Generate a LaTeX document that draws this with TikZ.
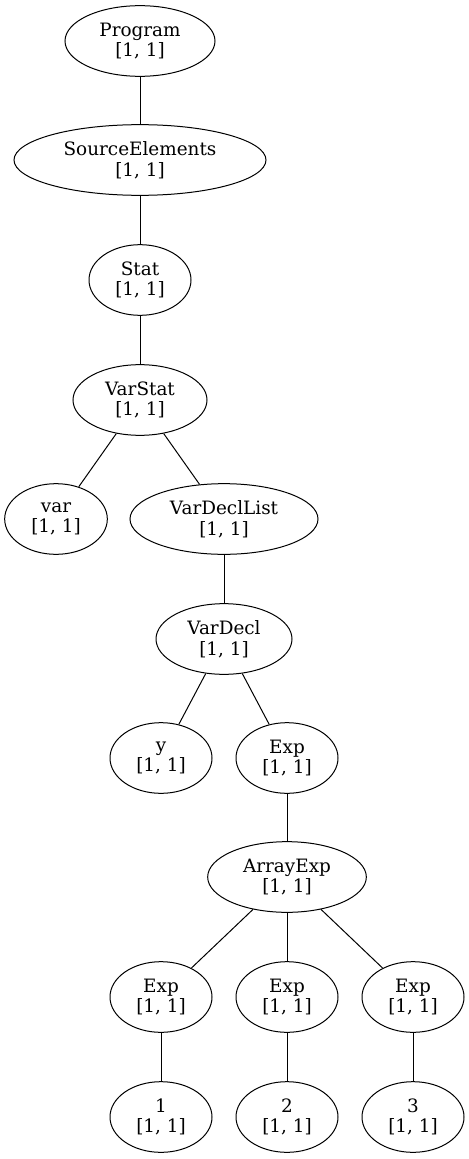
\documentclass[tikz,border=0pt]{standalone}
\usepackage{fontspec}
\setmainfont{DejaVu Serif}
\usetikzlibrary{shapes.geometric}
\begin{document}
\begin{tikzpicture}[x=0.75pt,y=-0.75pt,
  nd/.style={ellipse,draw,line width=0.75pt,inner sep=0pt,minimum height=53pt,
    align=center,font=\fontsize{13.8}{15.5}\selectfont},
  edge/.style={line width=0.75pt}]
\useasboundingbox (0,0) rectangle (468,1159);
\node[nd,minimum width=112.5pt] (prog) at (140,41) {Program\\{[1, 1]}};
\node[nd,minimum width=189pt] (src) at (140,160) {SourceElements\\{[1, 1]}};
\node[nd,minimum width=76.5pt] (stat) at (140,280) {Stat\\{[1, 1]}};
\node[nd,minimum width=100.5pt] (vstat) at (140,400) {VarStat\\{[1, 1]}};
\node[nd,minimum width=77pt] (var) at (56,519) {var\\{[1, 1]}};
\node[nd,minimum width=141pt] (vdl) at (224,519) {VarDeclList\\{[1, 1]}};
\node[nd,minimum width=102pt] (vd) at (224,639) {VarDecl\\{[1, 1]}};
\node[nd,minimum width=76.5pt] (y) at (161,758) {y\\{[1, 1]}};
\node[nd,minimum width=76.5pt] (exp) at (287,758) {Exp\\{[1, 1]}};
\node[nd,minimum width=119pt] (arr) at (287,877) {ArrayExp\\{[1, 1]}};
\node[nd,minimum width=76.5pt] (e1) at (161,997) {Exp\\{[1, 1]}};
\node[nd,minimum width=76.5pt] (e2) at (287,997) {Exp\\{[1, 1]}};
\node[nd,minimum width=76.5pt] (e3) at (413,997) {Exp\\{[1, 1]}};
\node[nd,minimum width=76.5pt] (l1) at (161,1117) {1\\{[1, 1]}};
\node[nd,minimum width=76.5pt] (l2) at (287,1117) {2\\{[1, 1]}};
\node[nd,minimum width=76.5pt] (l3) at (413,1117) {3\\{[1, 1]}};
\draw[edge] (prog) -- (src);
\draw[edge] (src) -- (stat);
\draw[edge] (stat) -- (vstat);
\draw[edge] (vstat) -- (var);
\draw[edge] (vstat) -- (vdl);
\draw[edge] (vdl) -- (vd);
\draw[edge] (vd) -- (y);
\draw[edge] (vd) -- (exp);
\draw[edge] (exp) -- (arr);
\draw[edge] (arr) -- (e1);
\draw[edge] (arr) -- (e2);
\draw[edge] (arr) -- (e3);
\draw[edge] (e1) -- (l1);
\draw[edge] (e2) -- (l2);
\draw[edge] (e3) -- (l3);
\end{tikzpicture}
\end{document}
